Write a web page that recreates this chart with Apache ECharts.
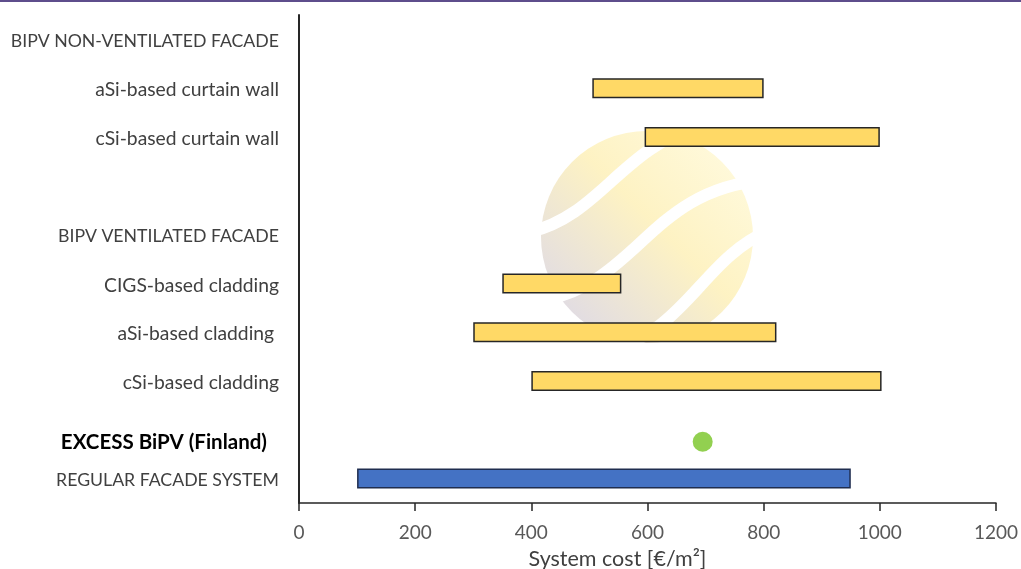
<!DOCTYPE html>
<html>
<head>
<meta charset="utf-8">
<script src="https://cdn.jsdelivr.net/npm/echarts@6/dist/echarts.min.js"></script>
<style>
  html, body { margin: 0; padding: 0; background: #fff; }
  #main { width: 1021px; height: 569px; }
</style>
</head>
<body>
<div id="main"></div>
<script>
// top to bottom
var categories = [
    'BIPV NON-VENTILATED FACADE',
    'aSi-based curtain wall',
    'cSi-based curtain wall',
    '',
    'BIPV VENTILATED FACADE',
    'CIGS-based cladding',
    'aSi-based cladding ',
    'cSi-based cladding',
    'EXCESS BiPV (Finland)',
    'REGULAR FACADE SYSTEM'
];
var costMin = [null, 505, 595, null, null, 350, 300, 400, null, 100];
var costMax = [null, 800, 1000, null, null, 555, 822, 1003, null, 950];
var excessCost = 695;
var excessIndex = 8;
var xTicks = [0, 200, 400, 600, 800, 1000, 1200];

var myChart = echarts.init(document.getElementById('main'));

var baseData = [];
var rangeData = [];
for (var i = 0; i < categories.length; i++) {
    if (costMin[i] == null) {
        baseData.push('-');
        rangeData.push('-');
        continue;
    }
    baseData.push(costMin[i]);
    var item = { value: costMax[i] - costMin[i] };
    if (categories[i] == 'REGULAR FACADE SYSTEM') {
        item.itemStyle = { color: '#4472C4', borderColor: '#1F2D4F' };
    }
    rangeData.push(item);
}

var font = 'Lato, sans-serif';

var option = {
    backgroundColor: '#fff',
    textStyle: { fontFamily: font },
    graphic: [
        // top border line
        { type: 'rect', shape: { x: 0, y: 0, width: 1021, height: 2 }, style: { fill: '#5E4E8C' }, z: 100 },
        // faint watermark logo
        {
            type: 'group', z: -10, silent: true,
            children: [
                {
                    type: 'circle', shape: { cx: 647, cy: 237, r: 106 },
                    style: {
                        opacity: 0.45,
                        fill: new echarts.graphic.LinearGradient(1, 0, 0, 1, [
                            { offset: 0, color: '#FFF7C2' },
                            { offset: 0.45, color: '#FCE37A' },
                            { offset: 1, color: '#A9A2D6' }
                        ])
                    }
                },
                {
                    type: 'bezierCurve',
                    shape: { x1: 530, y1: 232, cpx1: 600, cpy1: 215, cpx2: 620, cpy2: 150, x2: 700, y2: 125 },
                    style: { stroke: '#fff', lineWidth: 12, fill: null }
                },
                {
                    type: 'bezierCurve',
                    shape: { x1: 545, y1: 300, cpx1: 640, cpy1: 280, cpx2: 650, cpy2: 190, x2: 765, y2: 180 },
                    style: { stroke: '#fff', lineWidth: 12, fill: null }
                },
                {
                    type: 'bezierCurve',
                    shape: { x1: 600, y1: 355, cpx1: 690, cpy1: 330, cpx2: 700, cpy2: 260, x2: 770, y2: 230 },
                    style: { stroke: '#fff', lineWidth: 12, fill: null }
                },
                {
                    type: 'bezierCurve',
                    shape: { x1: 520, y1: 170, cpx1: 560, cpy1: 160, cpx2: 580, cpy2: 120, x2: 630, y2: 110 },
                    style: { stroke: '#fff', lineWidth: 30, fill: null }
                }
            ]
        }
    ],
    grid: { left: 299, right: 25, top: 15, bottom: 66, outerBoundsMode: 'none', containLabel: false },
    xAxis: {
        type: 'value',
        min: 0,
        max: 1200,
        interval: 200,
        name: 'System cost [€/m²]',
        nameLocation: 'middle',
        nameGap: 45,
        nameTextStyle: { color: '#404040', fontSize: 21.5, fontFamily: font, padding: [0, 60, 0, 0] },
        axisLine: { show: true, lineStyle: { color: '#262626', width: 1.5 } },
        axisTick: { show: true, length: 8, lineStyle: { color: '#262626', width: 1.5 } },
        axisLabel: {
            color: '#595959', fontSize: 19, margin: 20, fontFamily: font,
            formatter: function (v) { return xTicks.indexOf(v) >= 0 ? String(v) : ''; }
        },
        splitLine: { show: false }
    },
    yAxis: {
        type: 'category',
        data: categories,
        inverse: true,
        axisLine: { show: true, lineStyle: { color: '#262626', width: 2 } },
        axisTick: { show: false },
        axisLabel: {
            color: '#404040', fontSize: 19.3, margin: 20, fontFamily: font,
            padding: [4, 0, 0, 0],
            formatter: function (v) {
                if (v == 'EXCESS BiPV (Finland)') return '{ex|' + v + '}';
                if (v && v == v.toUpperCase()) return '{cap|' + v + '}';
                return v;
            },
            rich: {
                cap: { color: '#404040', fontSize: 17.7, fontFamily: font },
                ex: { color: '#000', fontWeight: 'bold', fontSize: 20.5, fontFamily: font, padding: [22, 12, 0, 0] }
            }
        },
        splitLine: { show: false }
    },
    series: [
        {
            name: 'base',
            type: 'bar',
            stack: 'range',
            data: baseData,
            barWidth: 20,
            itemStyle: { color: 'transparent' },
            silent: true
        },
        {
            name: 'range',
            type: 'bar',
            stack: 'range',
            data: rangeData,
            barWidth: 20,
            itemStyle: { color: '#FFD966', borderColor: '#262626', borderWidth: 1.5 }
        },
        {
            name: 'EXCESS BiPV',
            type: 'scatter',
            data: [[excessCost, excessIndex]],
            symbolSize: 20,
            symbolOffset: [0, 12],
            itemStyle: { color: '#92D050', opacity: 1 }
        }
    ]
};

myChart.setOption(option);
</script>
</body>
</html>
